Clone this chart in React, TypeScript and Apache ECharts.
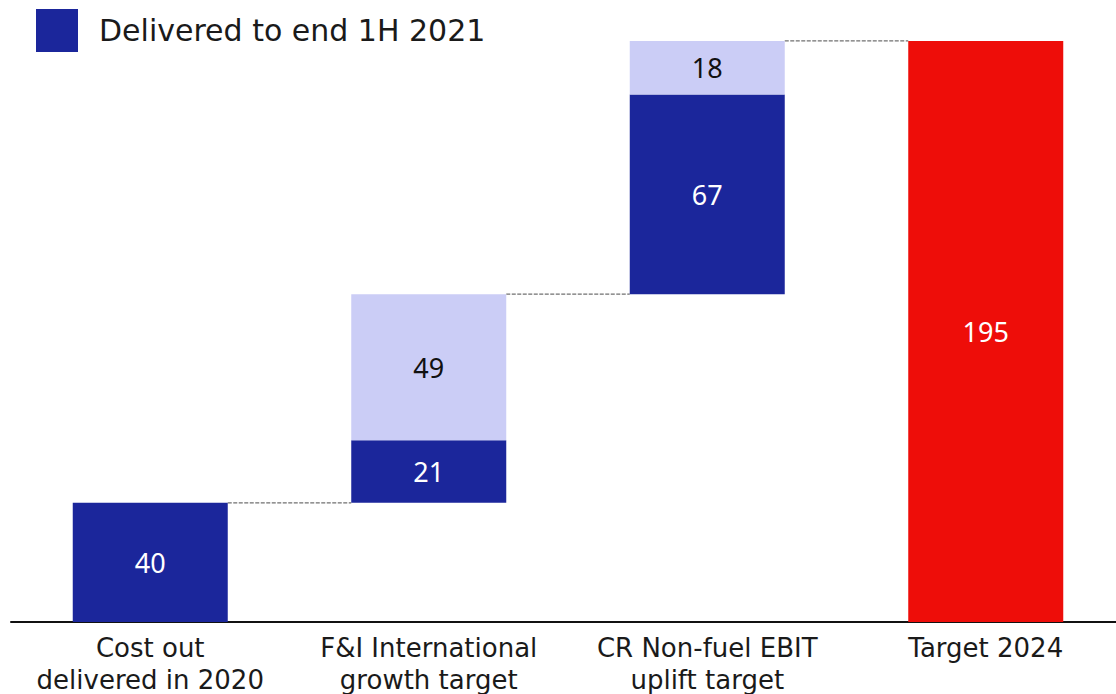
import React, { useEffect, useRef } from "react";
import * as echarts from "echarts";

const categories = [
  "Cost out\ndelivered in 2020",
  "F&I International\ngrowth target",
  "CR Non-fuel EBIT\nuplift target",
  "Target 2024",
];
const baseValues = [0, 40, 110, 0];
const deliveredValues: (number | string)[] = [40, 21, 67, "-"];
const remainingValues: (number | string)[] = ["-", 49, 18, "-"];
const targetValues: (number | string)[] = ["-", "-", "-", 195];
const connectorLevels = [
  [0, 40],
  [1, 110],
  [2, 195],
];
const legendName = "Delivered to end 1H 2021";

const DARK = "#1b269b";
const LIGHT = "#cbcdf6";
const RED = "#ee0d09";
const FONT = "'DejaVu Sans', sans-serif";
const NUM_FONT = "'Noto Sans', sans-serif";
const BAR_W = 155;

export default function App() {
  const ref = useRef<HTMLDivElement>(null);
  useEffect(() => {
    if (!ref.current) return;
    const chart = echarts.init(ref.current, undefined, { renderer: "svg" });
    const labelStyle = (color: string) => ({
      show: true,
      position: "inside",
      color,
      fontSize: 27,
      fontFamily: NUM_FONT,
    });
    chart.setOption({
      animation: false,
      textStyle: { fontFamily: FONT },
      grid: { left: 11, right: -9, top: 26, bottom: 72, outerBoundsMode: "none", containLabel: false },
      legend: {
        data: [legendName],
        left: 36,
        top: 9,
        padding: 0,
        icon: "rect",
        itemWidth: 42,
        itemHeight: 43,
        itemGap: 10,
        textStyle: { fontSize: 30, color: "#1a1a1a", fontFamily: FONT, padding: [0, 0, 0, 16] },
      },
      xAxis: {
        type: "category",
        data: categories,
        axisLine: { lineStyle: { color: "#111", width: 2 } },
        axisTick: { show: false },
        axisLabel: {
          interval: 0,
          fontSize: 26,
          lineHeight: 32,
          color: "#1a1a1a",
          margin: 10,
          fontFamily: FONT,
        },
      },
      yAxis: {
        type: "value",
        min: 0,
        max: 200,
        show: false,
        splitLine: { show: false },
      },
      series: [
        {
          name: "base",
          type: "bar",
          stack: "w",
          barWidth: BAR_W,
          data: baseValues,
          itemStyle: { color: "transparent" },
          silent: true,
        },
        {
          name: legendName,
          type: "bar",
          stack: "w",
          barWidth: BAR_W,
          data: deliveredValues,
          itemStyle: { color: DARK },
          label: labelStyle("#ffffff"),
        },
        {
          name: "remaining",
          type: "bar",
          stack: "w",
          barWidth: BAR_W,
          data: remainingValues,
          itemStyle: { color: LIGHT },
          label: labelStyle("#111111"),
        },
        {
          name: "target",
          type: "bar",
          stack: "w",
          barWidth: BAR_W,
          data: targetValues,
          itemStyle: { color: RED },
          label: labelStyle("#ffffff"),
        },
        {
          name: "connectors",
          type: "custom",
          silent: true,
          data: connectorLevels,
          renderItem: (params: any, api: any) => {
            const idx = api.value(0);
            const val = api.value(1);
            const p0 = api.coord([idx, val]);
            const p1 = api.coord([idx + 1, val]);
            return {
              type: "line",
              shape: {
                x1: p0[0] + BAR_W / 2,
                y1: p0[1],
                x2: p1[0] - BAR_W / 2,
                y2: p1[1],
              },
              style: { stroke: "#707070", lineWidth: 1.2, lineDash: [4, 1.5] },
            };
          },
        },
      ],
    });
    return () => chart.dispose();
  }, []);
  return (
    <div
      ref={ref}
      style={{ position: "fixed", left: 0, top: 0, width: 1116, height: 694, background: "#fff" }}
    />
  );
}
